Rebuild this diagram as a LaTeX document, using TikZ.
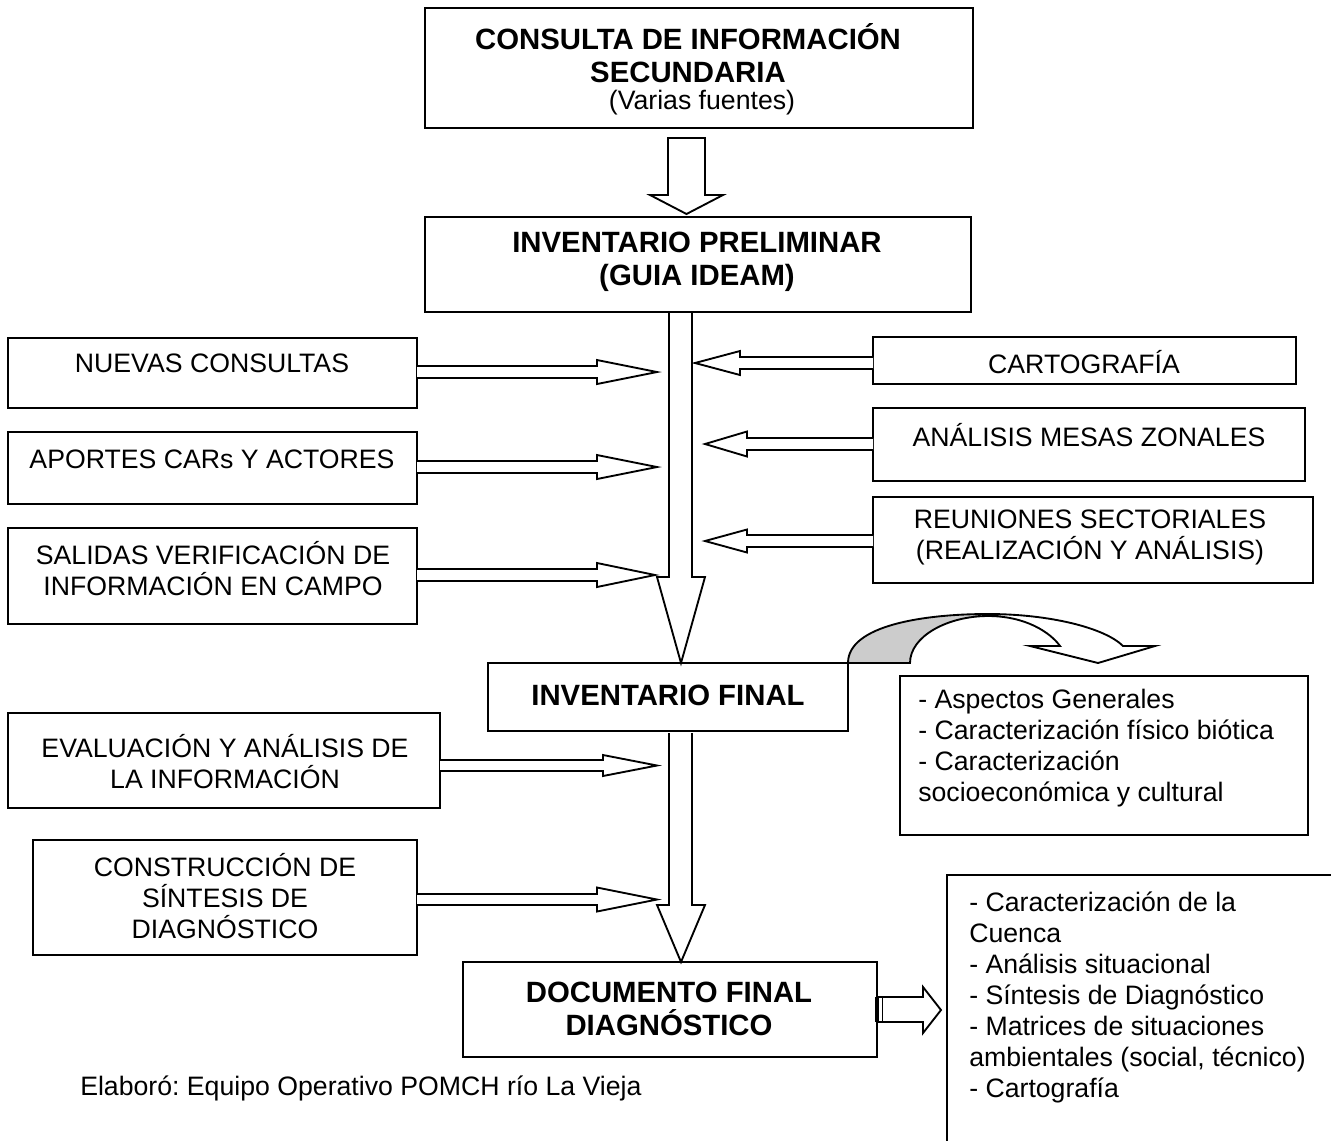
\documentclass[tikz,border=0pt]{standalone}
\usepackage{fontspec}
\setmainfont{Liberation Sans}
\frenchspacing
\newcommand\harr[6]{\draw[blk] (#1,#4-#5) -- (#2,#4-#5) -- (#2,#4-#6) -- (#3,#4) -- (#2,#4+#6) -- (#2,#4+#5) -- (#1,#4+#5);}
\begin{document}
\begin{tikzpicture}[x=0.75pt,y=-0.75pt,
  box/.style={draw,line width=1.4pt,inner sep=0pt,outer sep=0pt},
  blk/.style={draw,line width=1.4pt,fill=white,line join=miter},
  nt/.style={inner sep=0pt,align=center,font=\fontsize{20}{23.25}\selectfont},
  bt/.style={inner sep=0pt,align=center,font=\bfseries\fontsize{22}{24.75}\selectfont},
  lt/.style={inner sep=0pt,align=left,anchor=north west,font=\fontsize{20}{23.25}\selectfont}]
\path[use as bounding box] (0,0) rectangle (1331,1140);
\clip (0,0) rectangle (1331,1140);
\fill[white] (0,0) rectangle (1331,1140);
% boxes
\node[box,minimum width=548*0.75pt,minimum height=120*0.75pt] (top) at (699,68) {};
\node[box,minimum width=546*0.75pt,minimum height=95*0.75pt] (prelim) at (698,264.5) {};
\node[box,minimum width=360*0.75pt,minimum height=68*0.75pt] (final) at (668,697) {};
\node[box,minimum width=414*0.75pt,minimum height=95*0.75pt] (doc) at (670,1009.5) {};
\node[box,minimum width=409*0.75pt,minimum height=70*0.75pt] (nuevas) at (212.5,373) {};
\node[box,minimum width=409*0.75pt,minimum height=72*0.75pt] (aportes) at (212.5,468) {};
\node[box,minimum width=409*0.75pt,minimum height=96*0.75pt] (salidas) at (212.5,576) {};
\node[box,minimum width=432*0.75pt,minimum height=95*0.75pt] (evalua) at (224,760.5) {};
\node[box,minimum width=384*0.75pt,minimum height=115*0.75pt] (constr) at (225,897.5) {};
\node[box,minimum width=423*0.75pt,minimum height=47*0.75pt] (carto) at (1084.5,360.5) {};
\node[box,minimum width=432*0.75pt,minimum height=73*0.75pt] (mesas) at (1089,444.5) {};
\node[box,minimum width=440*0.75pt,minimum height=86*0.75pt] (reun) at (1093,540) {};
\node[box,minimum width=408*0.75pt,minimum height=159*0.75pt] (list1) at (1104,755.5) {};
\node[box,minimum width=398*0.75pt,minimum height=275*0.75pt] (list2) at (1146,1012.5) {};
% texts
\node[bt] (topT) at (688,53.5) {CONSULTA DE INFORMACIÓN\\SECUNDARIA};
\node[nt] (topS) at (702,103) {(Varias fuentes)};
\node[bt] (preT) at (697,261.5) {INVENTARIO PRELIMINAR\\(GUIA IDEAM)};
\node[bt] (finT) at (668,695) {INVENTARIO FINAL};
\node[bt] (docT) at (669,1008.5) {DOCUMENTO FINAL\\DIAGNÓSTICO};
\node[nt] (nueT) at (212,363) {NUEVAS CONSULTAS};
\node[nt] (apoT) at (212,459) {APORTES CARs Y ACTORES};
\node[nt] (salT) at (213,569) {SALIDAS VERIFICACIÓN DE\\INFORMACIÓN EN CAMPO};
\node[nt] (evaT) at (225,761.5) {EVALUACIÓN Y ANÁLISIS DE\\LA INFORMACIÓN};
\node[nt] (conT) at (225,896) {CONSTRUCCIÓN DE\\SÍNTESIS DE\\DIAGNÓSTICO};
\node[nt] (carT) at (1084,362) {CARTOGRAFÍA};
\node[nt] (mesT) at (1089,435) {ANÁLISIS MESAS ZONALES};
\node[nt] (reuT) at (1090,537) {REUNIONES SECTORIALES\\(REALIZACIÓN Y ANÁLISIS)};
\node[lt] (l1T) at (918,689) {- Aspectos Generales\\- Caracterización físico biótica\\- Caracterización\\socioeconómica y cultural};
\node[lt] (l2T) at (969,892) {- Caracterización de la\\Cuenca\\- Análisis situacional\\- Síntesis de Diagnóstico\\- Matrices de situaciones\\ambientales (social, técnico)\\- Cartografía};
\node[nt,anchor=west] (elab) at (80,1088) {Elaboró: Equipo Operativo POMCH río La Vieja};
% down arrows
\draw[blk] (668,138) -- (705,138) -- (705,195) -- (723,195) -- (686.5,214) -- (650,195) -- (668,195) -- cycle;
\draw[blk] (669,313) -- (669,577) -- (657,577) -- (681,663) -- (705,577) -- (692,577) -- (692,313);
\draw[blk] (669,733) -- (669,905) -- (657,905) -- (681,962) -- (705,905) -- (692,905) -- (692,733);
% side arrows
\harr{417}{597}{657}{372}{6}{12}
\harr{417}{597}{657}{467}{6}{12}
\harr{417}{597}{655}{575}{6}{12}
\harr{440}{603}{657}{765.5}{5.5}{10.5}
\harr{417}{597}{657}{899.5}{5.5}{12}
\harr{873}{740}{695}{363}{6}{12}
\harr{873}{747}{705}{444}{6}{12.5}
\harr{873}{747}{705}{541}{6}{11.5}
% curved arrow
\fill[black!20] (848,663) .. controls (848,625) and (925,614) .. (988,614) -- (988,616) .. controls (948,616) and (910,636) .. (910,663) -- cycle;
\draw[line width=1.4pt,line join=miter] (848,663) .. controls (848,625) and (925,614) .. (988,614) .. controls (1050,614) and (1105,628) .. (1123,646) -- (1155,646) -- (1098,663) -- (1030,646) -- (1060,646) .. controls (1050,632) and (1025,616) .. (988,616) .. controls (948,616) and (910,636) .. (910,663) -- cycle;
% striped arrow
\fill (875,997) rectangle (878,1022);
\draw[line width=1pt] (878,997) rectangle (883,1022);
\draw[blk] (883,997) -- (923,997) -- (923,987) -- (941,1010) -- (923,1033) -- (923,1022) -- (883,1022);
\end{tikzpicture}
\end{document}
